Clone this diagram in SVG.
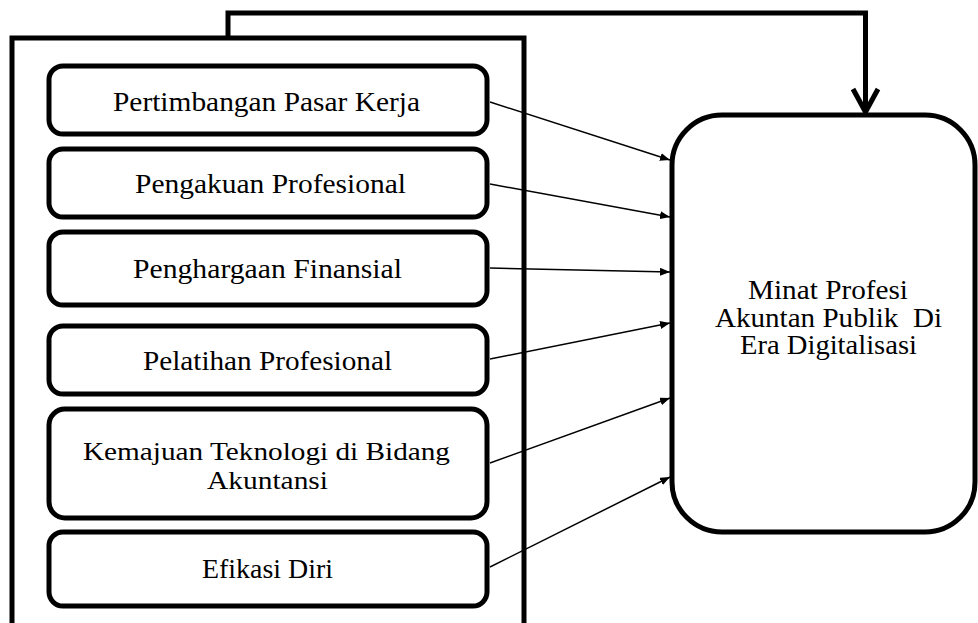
<svg xmlns="http://www.w3.org/2000/svg" width="978" height="623" viewBox="0 0 978 623">
  <style>
    .box { fill: #ffffff; stroke: #000000; stroke-width: 5; }
    .frame { fill: none; stroke: #000000; stroke-width: 5; }
    .lbl { font-family: "Liberation Serif", "DejaVu Serif", serif; font-size: 27px; fill: #000000; text-anchor: middle; white-space: pre; }
    .sm { font-size: 26px; }
    .conn { fill: none; stroke: #000000; stroke-width: 1.5; }
    .fb { fill: none; stroke: #000000; stroke-width: 5; }
  </style>
  <defs>
    <marker id="tri" viewBox="0 0 10 10" refX="10" refY="5" markerWidth="10" markerHeight="8" markerUnits="userSpaceOnUse" orient="auto" preserveAspectRatio="none">
      <path d="M0,0 L10,5 L0,10 Z" fill="#000000"/>
    </marker>
  </defs>

  <g id="frame">
    <rect class="frame" x="12" y="38" width="512" height="620"/>
  </g>

  <g id="connectors">
    <path class="fb" d="M228,38 V13 H865.5 V112"/>
    <polyline class="fb" points="853,89 865.5,112 878,89" stroke-linejoin="miter"/>
    <line class="conn" x1="490" y1="102" x2="670" y2="160" marker-end="url(#tri)"/>
    <line class="conn" x1="490" y1="184" x2="670" y2="217" marker-end="url(#tri)"/>
    <line class="conn" x1="490" y1="268" x2="670" y2="272" marker-end="url(#tri)"/>
    <line class="conn" x1="490" y1="359" x2="670" y2="323" marker-end="url(#tri)"/>
    <line class="conn" x1="490" y1="463" x2="670" y2="398" marker-end="url(#tri)"/>
    <line class="conn" x1="490" y1="567" x2="670" y2="477" marker-end="url(#tri)"/>
  </g>

  <g id="n1">
    <rect class="box" x="49" y="66" width="438" height="68" rx="14"/>
    <text class="lbl" x="266.5" y="111" textLength="307" lengthAdjust="spacingAndGlyphs">Pertimbangan Pasar Kerja</text>
  </g>
  <g id="n2">
    <rect class="box" x="49" y="149" width="438" height="68" rx="14"/>
    <text class="lbl" x="270.5" y="193" textLength="271" lengthAdjust="spacingAndGlyphs">Pengakuan Profesional</text>
  </g>
  <g id="n3">
    <rect class="box" x="49" y="232" width="438" height="73" rx="14"/>
    <text class="lbl" x="267.5" y="278" textLength="269" lengthAdjust="spacingAndGlyphs">Penghargaan Finansial</text>
  </g>
  <g id="n4">
    <rect class="box" x="49" y="326" width="438" height="68" rx="14"/>
    <text class="lbl" x="267.5" y="370" textLength="249" lengthAdjust="spacingAndGlyphs">Pelatihan Profesional</text>
  </g>
  <g id="n5">
    <rect class="box" x="49" y="409" width="438" height="109" rx="16"/>
    <text class="lbl sm" x="266.5" y="460" textLength="367" lengthAdjust="spacingAndGlyphs">Kemajuan Teknologi di Bidang</text>
    <text class="lbl sm" x="267.5" y="489" textLength="121" lengthAdjust="spacingAndGlyphs">Akuntansi</text>
  </g>
  <g id="n6">
    <rect class="box" x="49" y="532" width="438" height="74" rx="14"/>
    <text class="lbl" x="267.5" y="578" textLength="131" lengthAdjust="spacingAndGlyphs">Efikasi Diri</text>
  </g>

  <g id="target">
    <rect class="box" x="672" y="115" width="303" height="417" rx="50"/>
    <text class="lbl" x="828" y="299" textLength="160" lengthAdjust="spacingAndGlyphs">Minat Profesi</text>
    <text class="lbl" x="828.5" y="327" textLength="227" lengthAdjust="spacingAndGlyphs">Akuntan Publik  Di</text>
    <text class="lbl" x="828.5" y="354" textLength="177" lengthAdjust="spacingAndGlyphs">Era Digitalisasi</text>
  </g>
</svg>
